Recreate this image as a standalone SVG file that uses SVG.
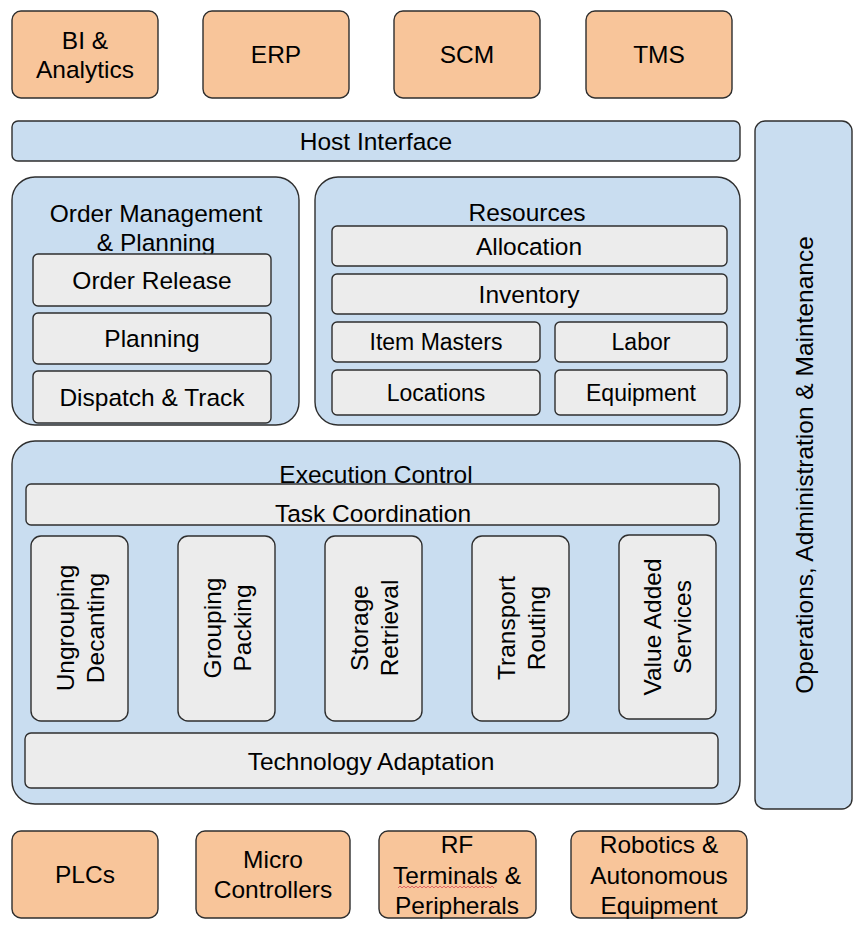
<svg xmlns="http://www.w3.org/2000/svg" width="865" height="931" viewBox="0 0 865 931">
<style>
  .ext { fill: #f8c59a; stroke: #2e2e2e; stroke-width: 1.4; }
  .blue { fill: #c9ddf0; stroke: #2e2e2e; stroke-width: 1.4; }
  .grey { fill: #ececec; stroke: #2e2e2e; stroke-width: 1.4; }
  text { font-family: "Liberation Sans", Arial, sans-serif; font-size: 24.5px; fill: #000; text-anchor: middle; }
  .sm { font-size: 23px; }
</style>
<rect width="865" height="931" fill="#ffffff"/>

<g id="bi"><rect class="ext" x="12" y="11" width="146" height="87" rx="9"/><text x="85" y="49">BI &amp;</text><text x="85" y="78">Analytics</text></g>
<g id="erp"><rect class="ext" x="203" y="11" width="146" height="87" rx="9"/><text x="276" y="63">ERP</text></g>
<g id="scm"><rect class="ext" x="394" y="11" width="146" height="87" rx="9"/><text x="467" y="63">SCM</text></g>
<g id="tms"><rect class="ext" x="586" y="11" width="146" height="87" rx="9"/><text x="659" y="63">TMS</text></g>

<g id="host"><rect class="blue" x="12" y="121" width="728" height="40" rx="6"/><text x="376" y="150">Host Interface</text></g>

<g id="oam"><rect class="blue" x="755" y="121" width="97" height="688" rx="10"/><text transform="translate(803.5,465) rotate(-90)" x="0" y="9.5">Operations, Administration &amp; Maintenance</text></g>

<g id="order">
  <rect class="blue" x="12" y="177" width="287" height="248" rx="23"/>
  <text x="156" y="222">Order Management</text>
  <text x="156" y="251">&amp; Planning</text>
  <g id="order-release"><rect class="grey" x="33" y="254" width="238" height="52" rx="5"/><text x="152" y="289">Order Release</text></g>
  <g id="planning"><rect class="grey" x="33" y="313" width="238" height="51" rx="5"/><text x="152" y="347">Planning</text></g>
  <g id="dispatch"><rect class="grey" x="33" y="371" width="238" height="52" rx="5"/><text x="152" y="406">Dispatch &amp; Track</text></g>
</g>

<g id="resources">
  <rect class="blue" x="315" y="177" width="425" height="248" rx="23"/>
  <text x="527" y="221">Resources</text>
  <g id="allocation"><rect class="grey" x="332" y="226" width="395" height="40" rx="5"/><text x="529" y="255">Allocation</text></g>
  <g id="inventory"><rect class="grey" x="332" y="274" width="395" height="40" rx="5"/><text x="529" y="303">Inventory</text></g>
  <g id="item-masters"><rect class="grey" x="332" y="322" width="208" height="40" rx="5"/><text class="sm" x="436" y="350">Item Masters</text></g>
  <g id="labor"><rect class="grey" x="555" y="322" width="172" height="40" rx="5"/><text class="sm" x="641" y="350">Labor</text></g>
  <g id="locations"><rect class="grey" x="332" y="370" width="208" height="45" rx="5"/><text class="sm" x="436" y="401">Locations</text></g>
  <g id="equipment"><rect class="grey" x="555" y="370" width="172" height="45" rx="5"/><text class="sm" x="641" y="401">Equipment</text></g>
</g>

<g id="execution">
  <rect class="blue" x="12" y="441" width="728" height="363" rx="23"/>
  <g id="task-coordination"><rect class="grey" x="26" y="484" width="693" height="41" rx="5"/><text x="373" y="522">Task Coordination</text></g>
  <text x="376" y="483">Execution Control</text>
  <g id="ungrouping"><rect class="grey" x="31" y="536" width="97" height="185" rx="10"/><text transform="translate(79.5,628) rotate(-90)"><tspan x="0" y="-6">Ungrouping</tspan><tspan x="0" y="24">Decanting</tspan></text></g>
  <g id="grouping"><rect class="grey" x="178" y="536" width="97" height="185" rx="10"/><text transform="translate(226.5,628) rotate(-90)"><tspan x="0" y="-6">Grouping</tspan><tspan x="0" y="24">Packing</tspan></text></g>
  <g id="storage"><rect class="grey" x="325" y="536" width="97" height="185" rx="10"/><text transform="translate(373.5,628) rotate(-90)"><tspan x="0" y="-6">Storage</tspan><tspan x="0" y="24">Retrieval</tspan></text></g>
  <g id="transport"><rect class="grey" x="472" y="536" width="97" height="185" rx="10"/><text transform="translate(520.5,628) rotate(-90)"><tspan x="0" y="-6">Transport</tspan><tspan x="0" y="24">Routing</tspan></text></g>
  <g id="vas"><rect class="grey" x="619" y="535" width="97" height="184" rx="10"/><text transform="translate(667.5,627) rotate(-90)"><tspan x="0" y="-7">Value Added</tspan><tspan x="0" y="23">Services</tspan></text></g>
  <g id="tech-adaptation"><rect class="grey" x="25" y="733" width="693" height="55" rx="6"/><text x="371" y="770">Technology Adaptation</text></g>
</g>

<g id="plcs"><rect class="ext" x="12" y="831" width="146" height="87" rx="9"/><text x="85" y="883">PLCs</text></g>
<g id="micro"><rect class="ext" x="196" y="831" width="154" height="87" rx="9"/><text x="273" y="868">Micro</text><text x="273" y="898">Controllers</text></g>
<g id="rf"><rect class="ext" x="379" y="831" width="157" height="87" rx="9"/><text x="457" y="853">RF</text><text x="457" y="884">Terminals &amp;</text><text x="457" y="914">Peripherals</text>
  <path d="M398,888 l2,-2 l2,2 l2,-2 l2,2 l2,-2 l2,2 l2,-2 l2,2 l2,-2 l2,2 l2,-2 l2,2 l2,-2 l2,2 l2,-2 l2,2 l2,-2 l2,2 l2,-2 l2,2 l2,-2 l2,2 l2,-2 l2,2 l2,-2 l2,2 l2,-2 l2,2 l2,-2 l2,2 l2,-2 l2,2 l2,-2 l2,2 l2,-2 l2,2 l2,-2 l2,2 l2,-2 l2,2 l2,-2 l2,2 l2,-2 l2,2 l2,-2 l2,2 l2,-2 l2,2" fill="none" stroke="#e06666" stroke-width="1"/></g>
<g id="robotics"><rect class="ext" x="571" y="831" width="176" height="87" rx="9"/><text x="659" y="853">Robotics &amp;</text><text x="659" y="884">Autonomous</text><text x="659" y="914">Equipment</text></g>

<g id="connectors"></g>
</svg>
